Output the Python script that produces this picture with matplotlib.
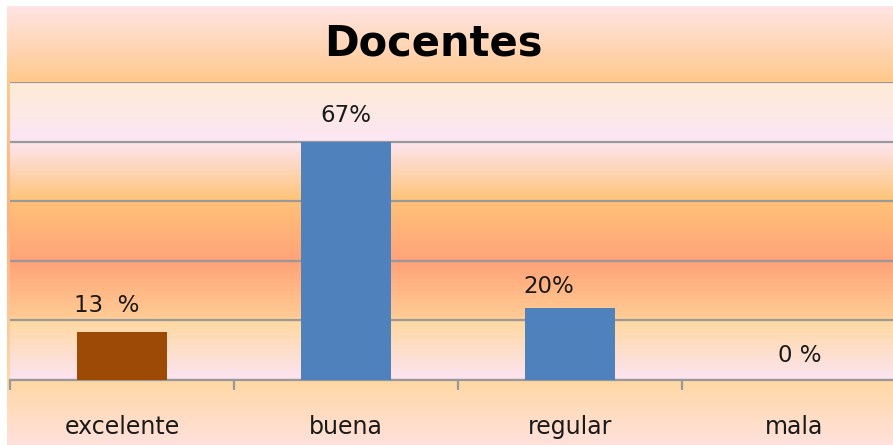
import numpy as np
import matplotlib.pyplot as plt
from matplotlib.colors import LinearSegmentedColormap

categorias = ["excelente", "buena", "regular", "mala"]
docentes = [2, 10, 3, 0]          # número de docentes por respuesta
etiquetas = ["13  %", "67%", "20%", "0 %"]
colores = ["#9C4A06", "#4F81BD", "#4F81BD", "#4F81BD"]

# pequeños corrimientos de las etiquetas (puntos), como en el original
desplaz = [(-11, 19), (0, 19), (-15, 16), (4, 18)]

plt.rcParams["font.family"] = ["DejaVu Sans"]

fig = plt.figure(figsize=(8.93, 4.45), dpi=100)
fig.patch.set_facecolor("white")

# fondo del área del gráfico (degradado vertical)
fondo = LinearSegmentedColormap.from_list("fondo", [
    (0.0, "#FFE4E4"), (0.17, "#FFC98C"), (0.5, "#FFB080"),
    (0.86, "#FFD8A6"), (1.0, "#FFE1DC")])
bg = fig.add_axes([7 / 893, 0, 886 / 893, 439 / 445])
bg.imshow(np.linspace(0, 1, 256).reshape(-1, 1), cmap=fondo, aspect="auto",
          extent=[0, 1, 0, 1], origin="upper")
bg.axis("off")

# área de trazado
ax = fig.add_axes([10 / 893, 65 / 445, 896 / 893, 298 / 445])
trazado = LinearSegmentedColormap.from_list("trazado", [
    (0.0, "#FFEBD5"), (0.19, "#FBE6F4"), (0.21, "#FDE3EA"), (0.39, "#FFC57C"),
    (0.41, "#FFBF78"), (0.6, "#FFA37A"), (0.62, "#FFA67A"), (0.79, "#FFCB94"),
    (0.81, "#FFD9A4"), (1.0, "#FCE4F2")])
ax.imshow(np.linspace(0, 1, 256).reshape(-1, 1), cmap=trazado, aspect="auto",
          extent=[0, 1, 0, 1], origin="upper", transform=ax.transAxes, zorder=0)

x = np.arange(len(categorias))
barras = ax.bar(x, docentes, width=0.4, color=colores, zorder=3)

for b, txt, (dx, dy) in zip(barras, etiquetas, desplaz):
    ax.annotate(txt, (b.get_x() + b.get_width() / 2, b.get_height()),
                xytext=(dx, dy), textcoords="offset points",
                ha="center", va="center", fontsize=16.5, color="#1A1A1A", zorder=4)

ax.set_xlim(-0.5, len(categorias) - 0.5)
ax.set_ylim(0, 12.5)
ax.set_yticks(np.arange(0, 12.6, 2.5))
ax.yaxis.grid(True, color="#999999", linewidth=1.6, zorder=1)
ax.set_axisbelow(True)
ax.tick_params(axis="y", left=False, labelleft=False)

ax.set_xticks(x)
ax.set_xticklabels(categorias, fontsize=17, color="#1A1A1A")
ax.set_xticks(np.arange(-0.5, len(categorias), 1), minor=True)
ax.tick_params(axis="x", which="major", length=0, pad=25)
ax.tick_params(axis="x", which="minor", length=7, width=1.6, color="#999999")

for lado in ["left", "right", "top"]:
    ax.spines[lado].set_visible(False)
ax.spines["bottom"].set_color("#999999")
ax.spines["bottom"].set_linewidth(1.6)

fig.text(433 / 893, 1 - 44 / 445, "Docentes", ha="center", va="center",
         fontsize=30, fontweight="bold", color="black")

fig.savefig("out.png", dpi=100)
